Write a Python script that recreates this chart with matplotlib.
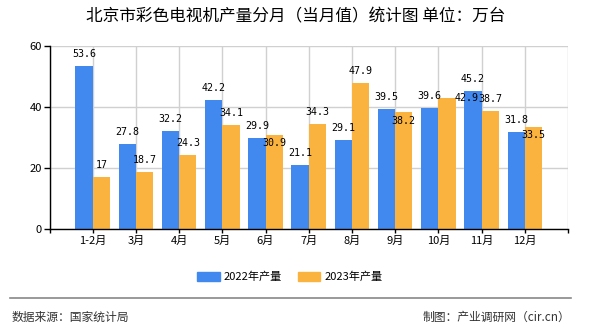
import numpy as np
import matplotlib
matplotlib.use('Agg')
import matplotlib.pyplot as plt
from matplotlib.patches import Patch
from matplotlib.lines import Line2D

plt.rcParams['font.family'] = ['Noto Sans CJK SC', 'DejaVu Sans']

# Data
months = ['1-2月', '3月', '4月', '5月', '6月', '7月', '8月', '9月', '10月', '11月', '12月']
prod_2022 = [53.6, 27.8, 32.2, 42.2, 29.9, 21.1, 29.1, 39.5, 39.6, 45.2, 31.8]
prod_2023 = [17, 18.7, 24.3, 34.1, 30.9, 34.3, 47.9, 38.2, 42.9, 38.7, 33.5]
series_names = ['2022年产量', '2023年产量']

blue = '#4189EE'
orange = '#FBB340'

fig = plt.figure(figsize=(5.9, 3.3), dpi=100)
ax = fig.add_axes([49.5 / 590, 1 - 229 / 330, 518.5 / 590, 183 / 330])

x = np.arange(1, len(months) + 1)
w = 0.4
ax.bar(x - w / 2, prod_2022, width=w, color=blue, zorder=3)
ax.bar(x + w / 2, prod_2023, width=w, color=orange, zorder=3)

# value labels, a few nudged like the original to avoid overlaps
nudge_2023 = {4: (0, -5.8), 7: (0, -5.8), 10: (0, -5.8), 8: (14.4, 0)}
for i in range(len(months)):
    ax.annotate(f'{prod_2022[i]:g}', (x[i] - w / 2, prod_2022[i]),
                xytext=(0, 8.6), textcoords='offset points',
                ha='center', va='center', fontsize=7.2,
                family='DejaVu Sans Mono', zorder=4)
    dx, dy = nudge_2023.get(i, (0, 8.6))
    ax.annotate(f'{prod_2023[i]:g}', (x[i] + w / 2, prod_2023[i]),
                xytext=(dx, dy), textcoords='offset points',
                ha='center', va='center', fontsize=7.2,
                family='DejaVu Sans Mono', zorder=4)

ax.set_xlim(0, 12)
ax.set_ylim(0, 60)
ax.set_yticks([0, 20, 40, 60])
ax.set_xticks(np.arange(0, 13))
ax.set_xticklabels([''] + months + [''])
ax.tick_params(axis='x', length=3, width=1, labelsize=8, pad=2)
ax.tick_params(axis='y', length=4.5, width=1, labelsize=8, pad=1)
ax.grid(True, color='#d0d0d0', linewidth=1, zorder=0)
ax.set_axisbelow(True)
for s in ['top', 'right']:
    ax.spines[s].set_visible(False)
for s in ['left', 'bottom']:
    ax.spines[s].set_linewidth(1)
    ax.spines[s].set_zorder(5)

# title
fig.text(86 / 590, 1 - 17 / 330, '北京市彩色电视机产量分月（当月值）统计图 单位：万台',
         ha='left', va='center', fontsize=12)

# legend
handles = [Patch(color=blue), Patch(color=orange)]
fig.legend(handles, series_names, loc='center', bbox_to_anchor=(290 / 590, 1 - 277 / 330),
           ncol=2, frameon=False, fontsize=8, handlelength=2.0, handleheight=0.8,
           handletextpad=0.4, columnspacing=1.4)

# footer
fig.add_artist(Line2D([10 / 590, 571 / 590], [1 - 298 / 330] * 2, color='#888888', linewidth=1.2))
fig.text(12 / 590, 1 - 317 / 330, '数据来源：国家统计局', ha='left', va='center',
         fontsize=8.5, color='#333333')
fig.text(570 / 590, 1 - 317 / 330, '制图：产业调研网（cir.cn）', ha='right', va='center',
         fontsize=8.5, color='#333333')

fig.savefig('out.png', dpi=100)
